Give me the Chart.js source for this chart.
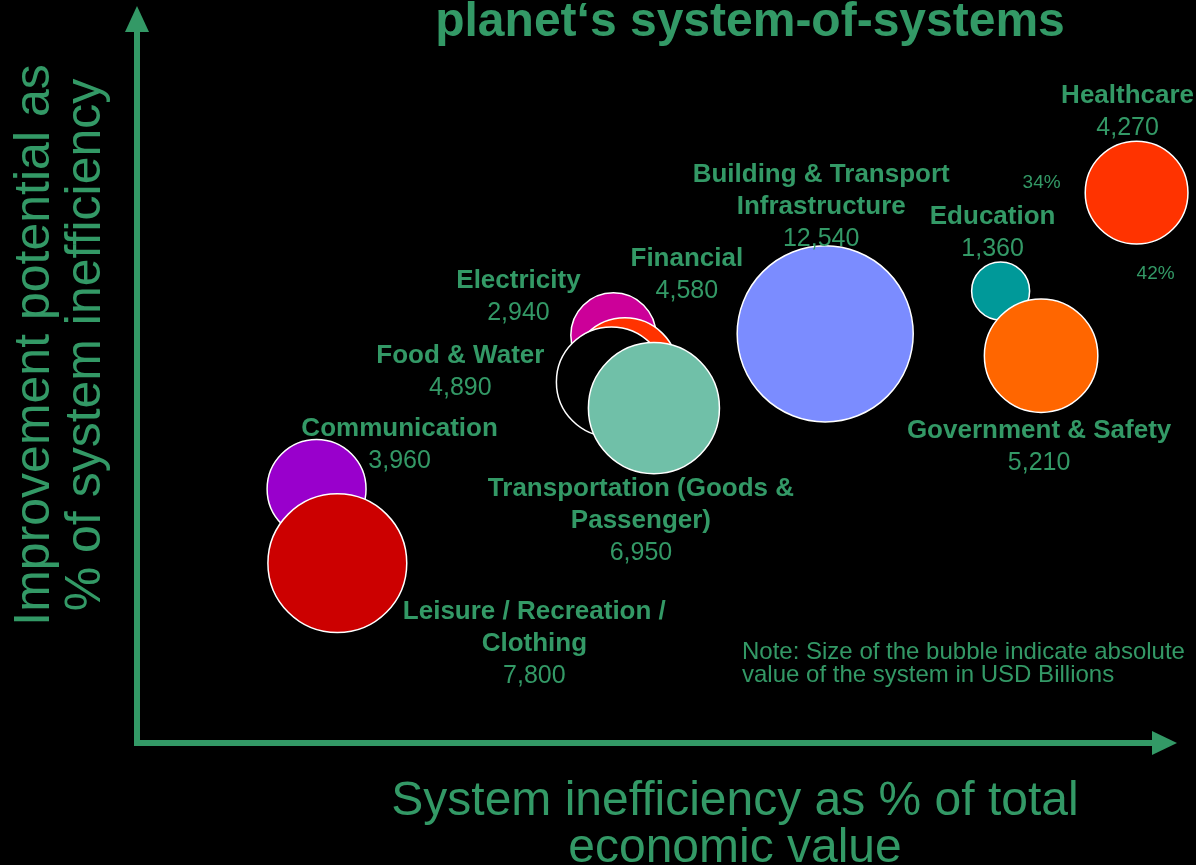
<!DOCTYPE html>
<html>
<head>
<meta charset="utf-8">
<script src="https://cdn.jsdelivr.net/npm/chart.js@4"></script>
<style>
  html, body { margin: 0; padding: 0; background: #000; }
  #wrap { width: 1196px; height: 865px; position: relative; }
</style>
</head>
<body>
<div id="wrap"><canvas id="myChart"></canvas></div>
<script>
// Systems, drawn in this order (later ones sit on top)
const systems = ['Communication', 'Leisure / Recreation / Clothing', 'Electricity', 'Financial',
  'Food & Water', 'Transportation (Goods & Passenger)', 'Building & Transport Infrastructure',
  'Education', 'Government & Safety', 'Healthcare'];

// Absolute value of each system in USD billions (bubble size)
const valueUSD = [3960, 7800, 2940, 4580, 4890, 6950, 12540, 1360, 5210, 4270];

// System inefficiency as % of total economic value (x, estimated)
const inefficiency = [17.3, 19.3, 45.9, 47.0, 45.7, 49.8, 66.3, 83.2, 87.1, 96.3];

// Improvement potential as % of system inefficiency (y, estimated)
const improvement = [34.9, 24.7, 56.0, 51.1, 49.6, 46.0, 56.2, 62.1, 53.2, 75.6];

// Label lines shown next to each bubble
const labelLines = [
  ['Communication'], ['Leisure / Recreation /', 'Clothing'], ['Electricity'], ['Financial'],
  ['Food & Water'], ['Transportation (Goods &', 'Passenger)'], ['Building & Transport', 'Infrastructure'],
  ['Education'], ['Government & Safety'], ['Healthcare']
];

const fills = ['#9900cc', '#cc0000', '#cc0099', '#ff3300', '#000000', '#70c0a8', '#7b8cff',
  '#009999', '#ff6600', '#ff3300'];

const green = '#339966';
const SIZE_K = 0.786; // px radius per sqrt(billion)

// where the label block sits relative to the bubble centre (first line centre)
const labelOffset = [[83, -62], [197, 47], [-95, -56], [62, -114], [-151, -28], [-13, 79],
  [-4, -161], [-8, -76], [-2, 73], [-9, -99]];

const data = {
  datasets: [{
    data: systems.map((s, i) => ({
      x: inefficiency[i], y: improvement[i], r: SIZE_K * Math.sqrt(valueUSD[i])
    })),
    backgroundColor: fills,
    borderColor: '#ffffff',
    borderWidth: 1.5,
    clip: false
  }]
};

function fmt(v) { return v.toLocaleString('en-US'); }

const decor = {
  id: 'decor',
  beforeDraw(chart) {
    const c = chart.ctx;
    c.save();
    c.fillStyle = '#000';
    c.fillRect(0, 0, chart.width, chart.height);
    c.restore();
  },
  afterDatasetsDraw(chart) {
    const c = chart.ctx;
    const a = chart.chartArea;
    c.save();
    c.fillStyle = green;
    c.strokeStyle = green;

    // axis arrows
    c.lineWidth = 6;
    c.beginPath();
    c.moveTo(a.left, a.bottom + 3);
    c.lineTo(a.left, 30);
    c.moveTo(a.left - 3, a.bottom);
    c.lineTo(a.right - 20, a.bottom);
    c.stroke();
    c.beginPath();
    c.moveTo(a.left, 6); c.lineTo(a.left - 12, 32); c.lineTo(a.left + 12, 32); c.closePath();
    c.fill();
    c.beginPath();
    c.moveTo(a.right + 2, a.bottom); c.lineTo(a.right - 23, a.bottom - 12); c.lineTo(a.right - 23, a.bottom + 12); c.closePath();
    c.fill();

    // title
    c.textAlign = 'center';
    c.textBaseline = 'alphabetic';
    c.font = 'bold 48px "Liberation Sans", Arial, sans-serif';
    c.fillText('planet\u2018s system-of-systems', 750, 36);

    // x axis title
    c.font = '48px "Liberation Sans", Arial, sans-serif';
    c.fillText('System inefficiency as % of total', 735, 815);
    c.fillText('economic value', 735, 862);

    // y axis title
    c.save();
    c.rotate(-Math.PI / 2);
    c.font = '50px "Liberation Sans", Arial, sans-serif';
    c.fillText('Improvement potential as', -345, 49);
    c.fillText('% of system inefficiency', -345, 100);
    c.restore();

    // bubble labels
    const meta = chart.getDatasetMeta(0);
    meta.data.forEach((pt, i) => {
      const x = pt.x + labelOffset[i][0];
      let y = pt.y + labelOffset[i][1];
      c.font = 'bold 26px "Liberation Sans", Arial, sans-serif';
      labelLines[i].forEach(line => { c.fillText(line, x, y + 9); y += 32; });
      c.font = '25px "Liberation Sans", Arial, sans-serif';
      c.fillText(fmt(valueUSD[i]), x, y + 9);
    });

    // percentages beside Healthcare
    const hc = meta.data[9];
    c.font = '19px "Liberation Sans", Arial, sans-serif';
    c.fillText('34%', hc.x - 95, hc.y - 5);
    c.fillText('42%', hc.x + 19, hc.y + 86);

    // note
    c.textAlign = 'left';
    c.font = '24px "Liberation Sans", Arial, sans-serif';
    c.fillText('Note: Size of the bubble indicate absolute', 742, 659);
    c.fillText('value of the system in USD Billions', 742, 682);
    c.restore();
  }
};

const config = {
  type: 'bubble',
  data,
  options: {
    responsive: true,
    maintainAspectRatio: false,
    animation: false,
    events: [],
    layout: { autoPadding: false, padding: { left: 137, right: 21, top: 15, bottom: 122 } },
    scales: {
      x: { display: false, min: 0, max: 100 },
      y: { display: false, min: 0, max: 100 }
    },
    plugins: { legend: { display: false }, tooltip: { enabled: false } }
  },
  plugins: [decor]
};

const myChart = new Chart(document.getElementById('myChart'), config);
</script>
</body>
</html>
